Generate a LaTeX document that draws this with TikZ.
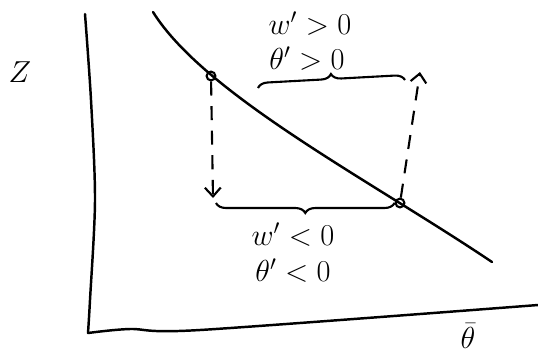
\documentclass[tikz,border=0pt]{standalone}
\usepackage{amsmath}
\usetikzlibrary{arrows.meta,decorations.pathreplacing}
\begin{document}
\begin{tikzpicture}[x=0.02cm, y=-0.02cm, font=\fontsize{18}{21}\selectfont]
\tikzset{
  axis/.style={line width=1.4pt, line cap=round},
  dot/.style={circle, draw=black, line width=1.2pt, inner sep=0pt, minimum size=5pt},
  darr/.style={->, >={Straight Barb[length=5pt, width=9pt]}, line width=1.2pt, dash pattern=on 8pt off 6pt},
  brc/.style={line width=1.2pt, decorate, decoration={brace, amplitude=0.2cm}},
  lab/.style={inner sep=0pt},
}
\useasboundingbox (0,0) rectangle (538,360);
% axes
\draw[axis] plot[smooth] coordinates {(85,14) (91,100) (95,200) (90,300) (88,333)};
\draw[axis] plot[smooth] coordinates {(88,333) (130,329) (200,330) (538,305)};
\node[lab] (zlab) at (20,72) {$Z$};
\node[lab] (tlab) at (468,336) {$\bar{\theta}$};
% curve
\draw[axis] (153,12) .. controls (205,95) and (370,180) .. (492,262);
\node[dot] (p) at (211,76) {};
\node[dot] (q) at (400,203) {};
\coordinate (pd) at (213,198);
\coordinate (qu) at (420,72);
\draw[darr] (p) -- (pd);
\draw[darr] (q) -- (qu);
% braces
\draw[brc] (258,88) -- (405,80);
\draw[brc] (q.west) -- (216,203);
\node[lab] (wp) at (310,24) {$w' > 0$};
\node[lab] (tp) at (307,59) {$\theta' > 0$};
\node[lab] (wm) at (293,235) {$w' < 0$};
\node[lab] (tm) at (293,271) {$\theta' < 0$};
\end{tikzpicture}
\end{document}
